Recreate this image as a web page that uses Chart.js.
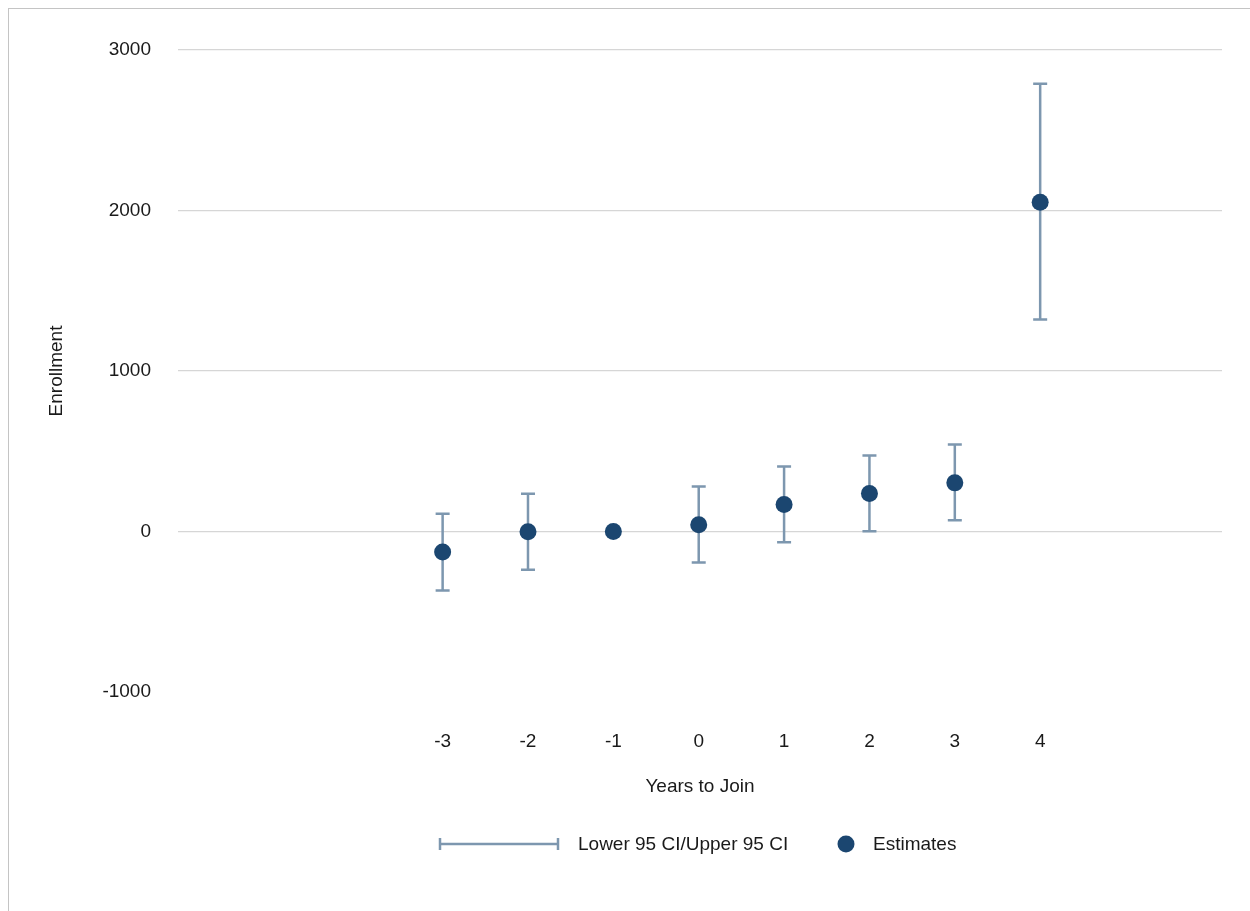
<!DOCTYPE html>
<html>
<head>
<meta charset="utf-8">
<script src="https://cdn.jsdelivr.net/npm/chart.js@4"></script>
<style>
  body { margin: 0; background: #fff; font-family: "Liberation Sans", Arial, sans-serif; }
  #wrap { position: relative; width: 1250px; height: 911px; overflow: hidden; }
  #frame { position: absolute; left: 8px; top: 8px; right: -2px; bottom: -2px;
           border-left: 1px solid #c4c4c4; border-top: 1px solid #c4c4c4; }
  #myChart { position: absolute; left: 0; top: 0; }
  #leyenda { position: absolute; top: 832px; left: 0; width: 1250px; height: 24px;
             font-size: 19px; color: #1a1a1a; }
  #leyenda .item { position: absolute; top: 0; line-height: 24px; white-space: nowrap; }
</style>
</head>
<body>
<div id="wrap">
  <div id="frame"></div>
  <canvas id="myChart" width="1250" height="911"></canvas>
  <div id="leyenda">
    <svg style="position:absolute;left:438px;top:5px" width="124" height="14">
      <line x1="2" y1="7" x2="120" y2="7" stroke="#7d97af" stroke-width="2.5"/>
      <line x1="2" y1="1" x2="2" y2="13" stroke="#7d97af" stroke-width="2.5"/>
      <line x1="120" y1="1" x2="120" y2="13" stroke="#7d97af" stroke-width="2.5"/>
    </svg>
    <span class="item" style="left:578px">Lower 95 CI/Upper 95 CI</span>
    <svg style="position:absolute;left:837px;top:3px" width="18" height="18">
      <circle cx="9" cy="9" r="8.5" fill="#1b4670"/>
    </svg>
    <span class="item" style="left:873px">Estimates</span>
  </div>
</div>
<script>
// Datos
const anios = [-3, -2, -1, 0, 1, 2, 3, 4];
const estimaciones = [-128, -2, 0, 42, 168, 237, 303, 2052];
const inferior = [-368, -239, null, -193, -67, 2, 70, 1321];
const superior = [110, 235, null, 280, 405, 473, 542, 2789];
const ticksX = [-3, -2, -1, 0, 1, 2, 3, 4];
const ticksY = [-1000, 0, 1000, 2000, 3000];

const colorBarra = "#7d97af";
const colorPunto = "#1b4670";
const colorTexto = "#1a1a1a";

// Plugin para dibujar las barras de error (IC 95%)
const barrasError = {
  id: "barrasError",
  beforeDatasetsDraw(chart) {
    const ctx = chart.ctx;
    const x = chart.scales.x;
    const y = chart.scales.y;
    ctx.save();
    ctx.strokeStyle = colorBarra;
    ctx.lineWidth = 2.5;
    for (let i = 0; i < anios.length; i++) {
      if (inferior[i] === null || superior[i] === null) continue;
      const px = x.getPixelForValue(anios[i]);
      const pLo = y.getPixelForValue(inferior[i]);
      const pHi = y.getPixelForValue(superior[i]);
      ctx.beginPath();
      ctx.moveTo(px, pLo);
      ctx.lineTo(px, pHi);
      ctx.moveTo(px - 7, pLo);
      ctx.lineTo(px + 7, pLo);
      ctx.moveTo(px - 7, pHi);
      ctx.lineTo(px + 7, pHi);
      ctx.stroke();
    }
    ctx.restore();
  },
};

const ctx = document.getElementById("myChart");
window.myChart = new Chart(ctx, {
  type: "scatter",
  data: {
    datasets: [
      {
        label: "Estimates",
        data: anios.map((a, i) => ({ x: a, y: estimaciones[i] })),
        backgroundColor: colorPunto,
        borderColor: colorPunto,
        pointRadius: 8.5,
        pointHoverRadius: 8.5,
        borderWidth: 0,
      },
    ],
  },
  options: {
    responsive: false,
    animation: false,
    layout: { padding: { left: 0, right: 28, top: 50, bottom: 0 } },
    plugins: {
      legend: { display: false },
      tooltip: { enabled: false },
    },
    scales: {
      x: {
        type: "linear",
        min: -6.1,
        max: 6.13,
        afterBuildTicks: (scale) => {
          scale.ticks = ticksX.map((v) => ({ value: v }));
        },
        afterFit: (scale) => {
          scale.height = 911 - 692;
        },
        grid: { display: false, drawTicks: false },
        border: { display: false },
        ticks: {
          padding: 38,
          color: colorTexto,
          font: { family: "Liberation Sans", size: 19 },
          callback: (v) => String(v),
        },
        title: {
          display: true,
          text: "Years to Join",
          color: colorTexto,
          font: { family: "Liberation Sans", size: 19 },
          padding: { top: 0, bottom: 113 },
        },
      },
      y: {
        min: -1000,
        max: 3000,
        afterBuildTicks: (scale) => {
          scale.ticks = ticksY.map((v) => ({ value: v }));
        },
        afterFit: (scale) => {
          scale.width = 178;
        },
        grid: {
          drawTicks: false,
          lineWidth: 1.2,
          color: (c) => (c.tick && c.tick.value === -1000 ? "rgba(0,0,0,0)" : "#d6d6d6"),
        },
        border: { display: false },
        ticks: {
          padding: 27,
          color: colorTexto,
          font: { family: "Liberation Sans", size: 19 },
          callback: (v) => String(v),
        },
        title: {
          display: true,
          text: "Enrollment",
          color: colorTexto,
          font: { family: "Liberation Sans", size: 19 },
          padding: { top: 45, bottom: 0 },
        },
      },
    },
  },
  plugins: [barrasError],
});
</script>
</body>
</html>
